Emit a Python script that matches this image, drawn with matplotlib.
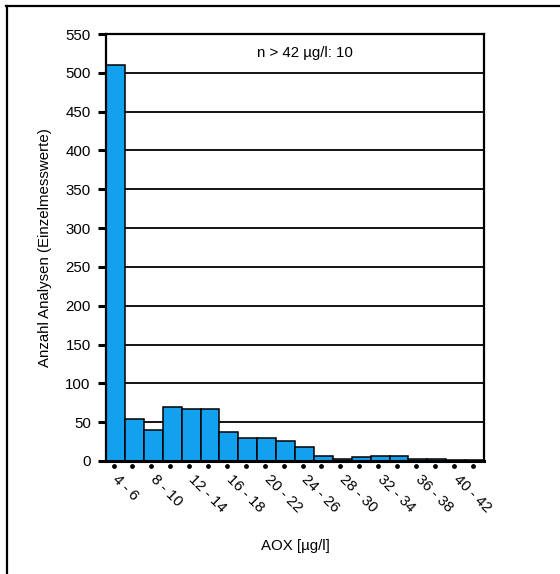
import matplotlib
matplotlib.use('Agg')
import matplotlib.pyplot as plt
from matplotlib.lines import Line2D
import numpy as np

plt.rcParams['font.family'] = ['Liberation Sans', 'DejaVu Sans']

# --- Data ---
counts = [510, 54, 40, 69, 67, 67, 37, 29, 29, 26, 18, 6, 3, 5, 6, 6, 3, 3, 1, 1]
shown_labels = ['4 - 6', '8 - 10', '12 - 14', '16 - 18', '20 - 22',
                '24 - 26', '28 - 30', '32 - 34', '36 - 38', '40 - 42']
y_ticks = list(range(0, 551, 50))
note = 'n > 42 µg/l: 10'

W, H = 560, 574
FS = 10.8
fig = plt.figure(figsize=(W / 100, H / 100), dpi=100)
ax = fig.add_axes([106 / W, 1 - 461 / H, 378 / W, 427 / H])

x = np.arange(len(counts))
ax.bar(x, counts, width=1.0, color='#12A1EE', edgecolor='black', linewidth=1.1, zorder=3)

ax.set_xlim(-0.5, len(counts) - 0.5)
ax.set_ylim(0, 550)
ax.set_yticks(y_ticks)
ax.yaxis.grid(True, color='black', linewidth=1.3, zorder=1)
ax.tick_params(axis='y', length=6, width=2.2, labelsize=FS, pad=5)

# x labels on every other bar, ticks shown as dots under the axis
ax.set_xticks(x[::2] + 0.25)
ax.set_xticklabels(shown_labels, rotation=-45, ha='left', va='top',
                   rotation_mode='anchor', fontsize=FS)
ax.tick_params(axis='x', length=0, pad=8)
trans = ax.get_xaxis_transform()
ax.scatter(x - 0.1, [-0.012] * len(x), s=6, marker='o', color='black',
           transform=trans, clip_on=False, zorder=4)

for side in ['top', 'right', 'left', 'bottom']:
    ax.spines[side].set_linewidth(1.6)
    ax.spines[side].set_zorder(5)
ax.spines['bottom'].set_linewidth(2.2)

ax.text(0.526, 0.955, note, transform=ax.transAxes, ha='center', va='center', fontsize=FS)

fig.text(45 / W, 1 - 248 / H, 'Anzahl Analysen (Einzelmesswerte)', rotation=90,
         ha='center', va='center', fontsize=FS)
fig.text(295 / W, 1 - 546 / H, 'AOX [µg/l]', ha='center', va='center', fontsize=FS)

# outer frame (top and left edges)
fig.add_artist(Line2D([6 / W, 1], [1 - 6 / H, 1 - 6 / H], color='black', linewidth=1.6,
                      transform=fig.transFigure))
fig.add_artist(Line2D([7 / W, 7 / W], [0, 1 - 6 / H], color='black', linewidth=1.6,
                      transform=fig.transFigure))

fig.savefig('out.png', dpi=100)
